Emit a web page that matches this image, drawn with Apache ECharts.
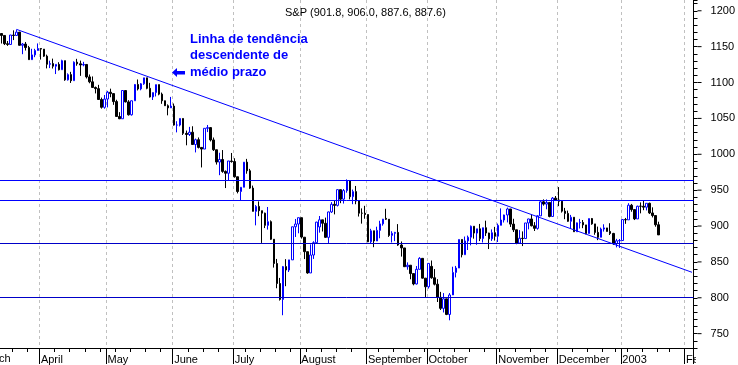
<!DOCTYPE html>
<html>
<head>
<meta charset="utf-8">
<script src="https://cdn.jsdelivr.net/npm/echarts@6/dist/echarts.min.js"></script>
<style>
html,body{margin:0;padding:0;background:#fff;}
#chart{width:738px;height:365px;}
</style>
</head>
<body>
<div id="chart"></div>
<script>
// ---------- DATA ----------
const categories = [
'2002-03-12','2002-03-13','2002-03-14','2002-03-15','2002-03-18','2002-03-19','2002-03-20','2002-03-21','2002-03-22','2002-03-25','2002-03-26','2002-03-27','2002-03-28',
'2002-04-01','2002-04-02','2002-04-03','2002-04-04','2002-04-05','2002-04-08','2002-04-09','2002-04-10','2002-04-11','2002-04-12','2002-04-15','2002-04-16','2002-04-17','2002-04-18','2002-04-19','2002-04-22','2002-04-23','2002-04-24','2002-04-25','2002-04-26','2002-04-29','2002-04-30',
'2002-05-01','2002-05-02','2002-05-03','2002-05-06','2002-05-07','2002-05-08','2002-05-09','2002-05-10','2002-05-13','2002-05-14','2002-05-15','2002-05-16','2002-05-17','2002-05-20','2002-05-21','2002-05-22','2002-05-23','2002-05-24','2002-05-28','2002-05-29','2002-05-30','2002-05-31',
'2002-06-03','2002-06-04','2002-06-05','2002-06-06','2002-06-07','2002-06-10','2002-06-11','2002-06-12','2002-06-13','2002-06-14','2002-06-17','2002-06-18','2002-06-19','2002-06-20','2002-06-21','2002-06-24','2002-06-25','2002-06-26','2002-06-27','2002-06-28',
'2002-07-01','2002-07-02','2002-07-03','2002-07-05','2002-07-08','2002-07-09','2002-07-10','2002-07-11','2002-07-12','2002-07-15','2002-07-16','2002-07-17','2002-07-18','2002-07-19','2002-07-22','2002-07-23','2002-07-24','2002-07-25','2002-07-26','2002-07-29','2002-07-30','2002-07-31',
'2002-08-01','2002-08-02','2002-08-05','2002-08-06','2002-08-07','2002-08-08','2002-08-09','2002-08-12','2002-08-13','2002-08-14','2002-08-15','2002-08-16','2002-08-19','2002-08-20','2002-08-21','2002-08-22','2002-08-23','2002-08-26','2002-08-27','2002-08-28','2002-08-29','2002-08-30',
'2002-09-03','2002-09-04','2002-09-05','2002-09-06','2002-09-09','2002-09-10','2002-09-11','2002-09-12','2002-09-13','2002-09-16','2002-09-17','2002-09-18','2002-09-19','2002-09-20','2002-09-23','2002-09-24','2002-09-25','2002-09-26','2002-09-27','2002-09-30',
'2002-10-01','2002-10-02','2002-10-03','2002-10-04','2002-10-07','2002-10-08','2002-10-09','2002-10-10','2002-10-11','2002-10-14','2002-10-15','2002-10-16','2002-10-17','2002-10-18','2002-10-21','2002-10-22','2002-10-23','2002-10-24','2002-10-25','2002-10-28','2002-10-29','2002-10-30','2002-10-31',
'2002-11-01','2002-11-04','2002-11-05','2002-11-06','2002-11-07','2002-11-08','2002-11-11','2002-11-12','2002-11-13','2002-11-14','2002-11-15','2002-11-18','2002-11-19','2002-11-20','2002-11-21','2002-11-22','2002-11-25','2002-11-26','2002-11-27','2002-11-29',
'2002-12-02','2002-12-03','2002-12-04','2002-12-05','2002-12-06','2002-12-09','2002-12-10','2002-12-11','2002-12-12','2002-12-13','2002-12-16','2002-12-17','2002-12-18','2002-12-19','2002-12-20','2002-12-23','2002-12-24','2002-12-26','2002-12-27','2002-12-30','2002-12-31',
'2003-01-02','2003-01-03','2003-01-06','2003-01-07','2003-01-08','2003-01-09','2003-01-10','2003-01-13','2003-01-14','2003-01-15','2003-01-16','2003-01-17','2003-01-21',
'2003-01-22','2003-01-23','2003-01-24','2003-01-27','2003-01-28','2003-01-29','2003-01-30','2003-01-31',
'2003-02-03','2003-02-04','2003-02-05'
];

const opens = [
1168.26,1165.58,1154.09,1153.04,1166.16,1165.55,1170.29,1151.85,1153.59,1148.70,1131.87,1138.49,1144.58,
1147.39,1146.54,1136.76,1125.40,1126.34,1122.73,1125.29,1117.80,1130.47,1103.69,1111.01,1102.55,1128.37,1126.07,1124.47,1125.17,1107.83,1100.96,1093.14,1091.48,1076.32,1065.45,
1076.92,1086.46,1084.56,1073.43,1052.67,1049.49,1088.85,1073.01,1054.99,1074.56,1097.28,1091.07,1098.23,1106.59,1091.88,1079.88,1086.02,1097.08,1083.82,1074.55,1067.66,1064.66,
1067.14,1040.68,1040.69,1049.90,1029.15,1027.53,1030.74,1013.60,1020.26,1009.56,1007.27,1036.17,1037.14,1019.99,1006.29,989.14,992.72,976.14,973.53,990.64,
989.82,968.65,948.09,953.99,989.03,976.98,952.83,920.47,927.37,921.39,917.93,900.94,906.04,881.56,847.75,819.85,797.70,843.43,838.68,852.84,898.96,902.78,
911.62,884.40,864.24,834.60,859.57,876.77,898.73,908.64,903.80,884.21,919.62,930.25,928.77,950.70,937.43,949.36,962.70,940.86,947.95,934.82,917.87,917.80,
916.07,878.02,893.40,879.15,893.92,902.96,910.63,909.45,886.91,889.81,891.10,873.52,869.46,843.32,845.39,833.70,819.27,839.66,854.95,827.37,
815.28,843.77,827.91,818.95,800.58,785.28,798.55,776.76,803.92,835.32,841.44,881.27,860.02,879.20,884.39,899.72,890.16,896.14,882.50,897.65,890.23,882.15,890.71,
885.76,900.96,908.35,915.39,923.76,902.65,894.74,876.19,882.95,882.53,904.27,909.83,900.36,896.74,914.15,933.76,930.55,932.87,913.31,938.87,
936.31,934.53,920.75,917.58,906.55,912.23,892.00,904.45,904.96,901.58,889.48,910.40,902.99,891.12,884.25,895.74,897.38,892.47,889.66,875.40,879.39,
879.82,909.03,908.59,929.01,922.93,909.93,927.58,927.57,926.26,931.66,918.22,914.60,901.78
];

const highs = [
1168.26,1165.58,1157.83,1166.48,1172.73,1173.94,1170.29,1155.10,1156.49,1151.04,1147.00,1146.95,1154.45,
1148.05,1146.54,1138.85,1130.45,1133.31,1125.41,1128.29,1131.76,1130.47,1112.77,1114.86,1129.40,1133.00,1130.49,1128.82,1125.17,1111.17,1108.46,1094.36,1096.77,1078.95,1082.62,
1088.32,1091.42,1084.56,1075.96,1058.67,1088.92,1088.85,1075.43,1074.84,1097.71,1104.23,1099.29,1106.59,1106.59,1099.55,1086.02,1097.10,1097.08,1085.98,1074.83,1069.50,1079.93,
1070.74,1046.06,1050.11,1049.90,1033.02,1038.18,1039.04,1021.85,1023.47,1009.56,1036.17,1040.83,1037.61,1023.33,1006.29,1002.11,1005.88,977.43,990.67,1001.79,
994.46,968.65,954.30,989.07,993.56,979.63,956.34,929.16,934.31,921.39,918.65,926.52,907.80,881.56,854.13,827.69,844.32,853.83,852.85,898.96,909.81,911.64,
911.62,884.72,864.24,874.44,878.74,905.84,913.95,908.64,911.71,920.21,933.29,935.38,951.17,950.70,951.59,965.00,962.70,950.80,955.82,934.82,924.59,928.15,
916.07,896.10,893.40,899.07,907.34,909.89,924.02,909.45,892.75,891.84,902.68,878.45,869.46,849.32,845.39,833.70,844.22,856.60,854.95,827.37,
847.93,851.93,840.02,825.90,808.21,806.51,798.55,806.51,843.27,844.39,881.27,881.27,885.35,886.68,900.69,899.72,896.14,902.94,897.71,907.44,890.64,895.28,898.83,
903.42,924.58,915.83,925.66,923.76,910.11,894.74,894.30,892.51,904.27,910.21,915.91,905.45,915.01,935.13,937.15,937.15,932.87,940.41,941.82,
954.28,934.53,925.25,921.49,915.48,912.23,904.95,909.94,908.37,901.58,910.42,911.22,902.99,899.19,897.79,902.43,897.38,903.89,890.46,882.10,881.93,
909.03,911.25,931.77,930.81,922.93,928.31,932.89,935.05,931.66,932.59,926.03,914.60,906.00
];

const lows = [
1154.34,1152.22,1151.08,1153.04,1159.14,1165.55,1151.61,1139.48,1144.60,1131.87,1131.61,1135.33,1144.58,
1132.01,1135.71,1119.68,1120.06,1119.49,1111.79,1116.81,1117.80,1102.42,1102.74,1099.41,1102.55,1123.37,1109.29,1122.59,1105.62,1098.94,1092.51,1084.81,1076.31,1063.62,1063.46,
1065.29,1079.46,1068.89,1052.65,1048.96,1049.49,1072.23,1053.93,1053.90,1074.56,1088.94,1089.17,1096.77,1090.61,1079.08,1075.64,1080.55,1082.19,1070.31,1067.66,1054.26,1064.66,
1039.90,1030.52,1038.84,1026.91,1012.49,1025.45,1012.94,1002.58,1008.12,981.63,1007.27,1030.92,1017.88,1004.59,985.65,970.85,974.21,952.92,963.74,988.31,
967.43,945.54,934.87,953.99,972.91,951.71,920.29,900.94,913.71,876.46,897.13,895.03,880.60,842.07,813.26,796.13,775.68,816.11,835.92,852.84,884.70,889.88,
882.48,853.95,833.44,834.60,854.15,875.17,890.77,892.38,883.62,876.20,918.17,916.21,927.21,931.86,931.32,946.43,937.17,930.42,930.36,913.21,903.33,910.17,
877.51,875.73,870.50,879.15,882.92,900.50,908.47,884.84,877.05,878.91,872.38,857.39,843.09,839.09,825.76,817.38,818.46,839.66,826.84,800.20,
812.82,826.50,817.25,794.10,782.96,779.51,775.80,768.63,803.92,828.37,841.44,856.28,860.02,866.58,873.06,882.40,873.82,879.00,877.03,886.15,867.91,879.19,879.75,
877.71,900.96,904.91,905.00,898.68,891.62,874.63,876.19,872.05,882.53,895.35,899.48,893.09,894.93,914.15,928.41,923.31,912.10,913.31,935.58,
927.72,918.73,909.51,905.90,895.96,891.97,892.00,896.48,897.00,888.48,889.48,901.74,887.82,880.32,884.25,892.26,892.29,887.48,873.62,870.23,869.45,
879.82,903.07,908.59,919.93,908.32,909.93,917.66,922.05,921.72,916.70,911.98,899.02,887.62
];

const closes = [
1165.58,1154.09,1153.04,1166.16,1165.55,1170.29,1151.85,1153.59,1148.70,1131.87,1138.49,1144.58,1147.39,
1146.54,1136.76,1125.40,1126.34,1122.73,1125.29,1117.80,1130.47,1103.69,1111.01,1102.55,1128.37,1126.07,1124.47,1125.17,1107.83,1100.96,1093.14,1091.48,1076.32,1065.45,1076.92,
1086.46,1084.56,1073.43,1052.67,1049.49,1088.85,1073.01,1054.99,1074.56,1097.28,1091.07,1098.23,1106.59,1091.88,1079.88,1086.02,1097.08,1083.82,1074.55,1067.66,1064.66,1067.14,
1040.68,1040.69,1049.90,1029.15,1027.53,1030.74,1013.60,1020.26,1009.56,1007.27,1036.17,1037.14,1019.99,1006.29,989.14,992.72,976.14,973.53,990.64,989.82,
968.65,948.09,953.99,989.03,976.98,952.83,920.47,927.37,921.39,917.93,900.94,906.04,881.56,847.75,819.85,797.70,843.43,838.68,852.84,898.96,902.78,911.62,
884.66,864.24,834.60,859.57,876.77,905.46,908.64,903.80,884.21,919.62,930.25,928.77,950.70,937.43,949.36,962.70,940.86,947.95,934.82,917.87,917.80,916.07,
878.02,893.40,879.15,893.92,902.96,909.58,909.45,886.91,889.81,891.10,873.52,869.46,843.32,845.39,833.70,819.29,839.66,854.95,827.37,815.28,
847.91,827.91,818.95,800.58,785.28,798.55,776.76,803.92,835.32,841.44,881.27,860.02,879.20,884.39,899.72,890.16,896.14,882.50,897.65,890.23,882.15,890.71,885.76,
900.96,908.35,915.39,923.76,902.65,894.74,876.19,882.95,882.53,904.27,909.83,900.36,896.74,914.15,933.76,930.55,932.87,913.31,938.87,936.31,
934.53,920.75,917.58,906.55,912.23,892.00,904.45,904.96,901.58,889.48,910.40,902.99,891.12,884.25,895.76,897.38,892.47,889.66,875.40,879.39,879.82,
909.03,908.59,929.01,922.93,909.93,927.57,927.57,926.26,931.66,918.22,914.60,901.78,887.62
];

const supportLevels = [963.4, 935.6];  // upper horizontal lines
const lowerLevels = [875.6, 800.4];    // lower horizontal lines
const trendLine = [['2002-03-19', 1174.0], ['2003-02-05', 835.5]];
const yTickLabels = [750, 800, 850, 900, 950, 1000, 1050, 1100, 1150, 1200];
const monthNames = ['January','February','March','April','May','June','July','August','September','October','November','December'];
const titleText = 'S&P (901.8, 906.0, 887.6, 887.6)';
const noteText = 'Linha de tendência\ndescendente de\nmédio prazo';

// ---------- BUILD ----------
const candleData = opens.map((o, i) => [o, closes[i], lows[i], highs[i]]);
const dt = categories.map(s => new Date(s + 'T12:00:00Z'));
const monthStart = categories.map((s, i) => i > 0 && dt[i].getUTCMonth() !== dt[i-1].getUTCMonth());
const weekStart = categories.map((s, i) => i > 0 && dt[i].getUTCDay() < dt[i-1].getUTCDay());
const FONT = '"Liberation Sans", Arial, sans-serif';

const lineMarks = [];
supportLevels.forEach(v => lineMarks.push({ yAxis: v, lineStyle: { color: '#0000FF', width: 1, type: 'solid' } }));
lowerLevels.forEach(v => lineMarks.push({ yAxis: v, lineStyle: { color: '#0000C8', width: 1, type: 'solid' } }));
lineMarks.push([
  { coord: trendLine[0], lineStyle: { color: '#0000FF', width: 1, type: 'solid' } },
  { coord: trendLine[1] }
]);

const chart = echarts.init(document.getElementById('chart'), null, { renderer: 'canvas' });
chart.setOption({
  animation: false,
  backgroundColor: '#ffffff',
  title: {
    text: titleText, left: 280, top: 2,
    textStyle: { fontSize: 11, fontWeight: 'normal', color: '#000', fontFamily: FONT }
  },
  grid: { left: 0, right: 40, top: 0, bottom: 17, containLabel: false },
  xAxis: [
    {
      type: 'category', data: categories, boundaryGap: true,
      axisLine: { show: true, lineStyle: { color: '#000', width: 1 } },
      axisTick: { show: true, interval: (i) => weekStart[i], length: 4, lineStyle: { color: '#000' } },
      axisLabel: { show: false },
      splitLine: { show: true, interval: (i) => monthStart[i], lineStyle: { color: '#c0c0c0', width: 1, type: [3, 3] } }
    },
    {
      type: 'category', data: categories, boundaryGap: true, position: 'bottom',
      axisLine: { show: false },
      axisTick: { show: true, interval: (i) => monthStart[i], length: 16, lineStyle: { color: '#000' } },
      splitLine: { show: false },
      axisLabel: {
        show: true, interval: (i) => monthStart[i], align: 'left', margin: 6,
        fontSize: 11, color: '#000', fontFamily: FONT,
        formatter: (v) => {
          const m = +v.slice(5, 7);
          if (m === 1) return v.slice(0, 4);
          return monthNames[m - 1];
        }
      }
    }
  ],
  yAxis: {
    type: 'value', position: 'right', min: 730, max: 1215, interval: 10,
    axisLine: { show: true, lineStyle: { color: '#000', width: 1 } },
    axisTick: { show: true, length: 4, lineStyle: { color: '#000' } },
    splitLine: { show: false },
    axisLabel: {
      margin: 4, align: 'left',
      formatter: (v) => yTickLabels.includes(v) ? '{t|}{v|' + v + '}' : '',
      rich: {
        t: { width: 4, height: 1, backgroundColor: '#000', verticalAlign: 'middle' },
        v: { padding: [0, 0, 0, 9], fontSize: 11, color: '#000', fontFamily: FONT, verticalAlign: 'middle' }
      }
    }
  },
  series: [{
    type: 'candlestick', xAxisIndex: 0, yAxisIndex: 0,
    data: candleData, barWidth: 2,
    itemStyle: { color: '#ffffff', color0: '#000000', borderColor: '#0000FF', borderColor0: '#000000', borderWidth: 1 },
    markLine: { silent: true, symbol: ['none', 'none'], label: { show: false }, animation: false, data: lineMarks }
  }],
  graphic: [
    { type: 'text', left: 190, top: 31, z: 10,
      style: { text: noteText, fill: '#0000FF', fontSize: 13, fontWeight: 'bold', fontFamily: FONT, lineHeight: 16.5 } },
    { type: 'polygon', z: 10,
      shape: { points: [[172, 72.5], [177, 68], [177, 71], [185, 71], [185, 74.5], [177, 74.5], [177, 77]] },
      style: { fill: '#0000FF' } },
    { type: 'text', z: 10, left: -20, top: 353,
      style: { text: monthNames[2], fill: '#000', fontSize: 11, fontFamily: FONT } },
    // the source clips the last month name at the plot's right edge
    { type: 'rect', z: 100, shape: { x: 696, y: 350, width: 42, height: 15 }, style: { fill: '#ffffff' } }
  ]
});
</script>
</body>
</html>
